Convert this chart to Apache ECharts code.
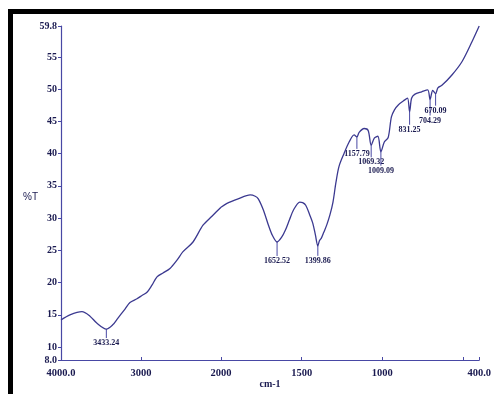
<!DOCTYPE html>
<html>
<head>
<meta charset="utf-8">
<script src="https://cdn.jsdelivr.net/npm/echarts@6/dist/echarts.min.js"></script>
<style>
html,body{margin:0;padding:0;background:#fff;}
#chart{width:494px;height:394px;}
</style>
</head>
<body>
<div id="chart"></div>
<script>
// Spectrum: wavenumber (cm-1) and %T
const wavenumber = [4000, 3888, 3738, 3638, 3550, 3433.24, 3350, 3300, 3200, 3138, 3050, 2988, 2925, 2863, 2800, 2725, 2638, 2550, 2475, 2350, 2225, 2113, 2000,
  1963, 1894, 1819, 1788, 1769, 1738, 1706, 1681, 1652.52, 1625, 1600, 1575, 1550, 1512, 1494, 1475, 1450, 1431, 1415, 1399.86, 1390, 1378, 1363, 1344, 1325, 1306, 1288, 1269, 1238, 1206, 1175, 1157.79, 1144, 1113, 1088, 1069.32, 1050, 1028, 1009.09, 988, 964, 944, 925, 900, 863, 844, 831.25, 819, 800, 756, 719, 704.29, 688, 670.09, 656, 631, 569, 506, 444, 400];
const transmittance = [14.2, 15.0, 15.5, 14.8, 13.7, 12.8, 13.5, 14.3, 15.9, 16.9, 17.5, 18.0, 18.5, 19.6, 20.9, 21.5, 22.2, 23.5, 24.8, 26.3, 28.9, 30.3, 31.7,
  32.3, 33.0, 33.6, 33.4, 33.0, 31.3, 28.9, 27.3, 26.3, 27.0, 28.2, 29.8, 31.3, 32.5, 32.4, 32.0, 30.5, 29.2, 27.4, 25.7, 26.5, 26.9, 27.8, 29.0, 30.5, 32.5, 35.5, 38.0, 40.0, 41.8, 42.9, 42.6, 43.3, 43.9, 43.6, 41.3, 42.4, 42.7, 40.3, 41.8, 42.5, 45.7, 46.8, 47.6, 48.3, 48.6, 46.5, 48.6, 49.2, 49.6, 49.9, 48.4, 49.8, 49.3, 50.2, 50.6, 52.2, 54.3, 57.4, 59.8];

// Peak annotations
const peakWn = [3433.24, 1652.52, 1399.86, 1157.79, 1069.32, 1009.09, 831.25, 704.29, 670.09];
const peakT = [12.8, 26.3, 25.7, 42.6, 41.3, 40.3, 46.5, 48.4, 49.3];
const peakLabels = ['3433.24', '1652.52', '1399.86', '1157.79', '1069.32', '1009.09', '831.25', '704.29', '670.09'];

// Axis ticks
const yTicks = [8, 10, 15, 20, 25, 30, 35, 40, 45, 50, 55, 59.8];
const xTicksHigh = [4000, 3000, 2000];
const xTicksLow = [1500, 1000, 500, 400];
const xLabelsLow = [1500, 1000, 400];

// styles (not data)
const markerLen = [9, 14, 10, 12, 12, 14, 13, 16, 12];
const lineColor = '#3b3990';
const axisColor = '#4848a4';
const textColor = '#1a1a50';

const pts = wavenumber.map((w, i) => [w, transmittance[i]]);
const partHigh = pts.filter(p => p[0] >= 2000);
const partLow = pts.filter(p => p[0] <= 2000);
const peaks = peakWn.map((w, i) => [w, peakT[i], markerLen[i], i]);
const peaksHigh = peaks.filter(p => p[0] >= 2000);
const peaksLow = peaks.filter(p => p[0] < 2000);

function renderPeak(params, api) {
  const p = api.coord([api.value(0), api.value(1)]);
  const len = api.value(2);
  const idx = api.value(3);
  return {
    type: 'group',
    children: [
      {type: 'line', shape: {x1: p[0], y1: p[1], x2: p[0], y2: p[1] + len}, style: {stroke: axisColor, lineWidth: 1}},
      {type: 'text', x: p[0], y: p[1] + len + 1, style: {text: peakLabels[idx], align: 'center', verticalAlign: 'top', font: 'bold 8px "Liberation Serif", serif', fill: textColor}}
    ]
  };
}

const labelFont = {fontFamily: '"Liberation Serif", serif', fontWeight: 'bold', color: textColor};

const chart = echarts.init(document.getElementById('chart'), null, {renderer: 'canvas'});
chart.setOption({
  backgroundColor: '#ffffff',
  animation: false,
  grid: [
    {left: 61, top: 26, width: 160, height: 334},
    {left: 221, top: 26, width: 259, height: 334}
  ],
  xAxis: [
    {
      gridIndex: 0, type: 'value', min: 2000, max: 4000, inverse: true,
      axisLine: {lineStyle: {color: axisColor, width: 1.2}},
      axisTick: {inside: true, length: 3, customValues: xTicksHigh, lineStyle: {color: axisColor}},
      axisLabel: Object.assign({fontSize: 10.5, margin: 8, customValues: xTicksHigh,
        formatter: v => v === 4000 ? '4000.0' : String(v)}, labelFont),
      splitLine: {show: false}
    },
    {
      gridIndex: 1, type: 'value', min: 400, max: 2000, inverse: true,
      axisLine: {lineStyle: {color: axisColor, width: 1.2}},
      axisTick: {inside: true, length: 3, customValues: xTicksLow, lineStyle: {color: axisColor}},
      axisLabel: Object.assign({fontSize: 10.5, margin: 8, customValues: xLabelsLow,
        formatter: v => v === 400 ? '400.0' : String(v)}, labelFont),
      splitLine: {show: false}
    }
  ],
  yAxis: [
    {
      gridIndex: 0, type: 'value', min: 8, max: 59.8,
      axisLine: {show: true, lineStyle: {color: axisColor, width: 1.2}},
      axisTick: {show: true, length: 3, customValues: yTicks, lineStyle: {color: axisColor}},
      axisLabel: Object.assign({fontSize: 10, margin: 4, customValues: yTicks,
        formatter: v => (v === 8 ? '8.0' : (v === 59.8 ? '59.8' : String(v)))}, labelFont),
      splitLine: {show: false}
    },
    {
      gridIndex: 1, type: 'value', min: 8, max: 59.8, show: false, splitLine: {show: false}
    }
  ],
  graphic: [
    {type: 'rect', shape: {x: 8, y: 9, width: 486, height: 5}, style: {fill: '#000'}},
    {type: 'rect', shape: {x: 8, y: 9, width: 5, height: 385}, style: {fill: '#000'}},
    {type: 'text', x: 23, y: 197, style: {text: '%T', font: '10px "Liberation Sans", sans-serif', fill: textColor, verticalAlign: 'middle'}},
    {type: 'text', x: 270, y: 384, style: {text: 'cm-1', font: 'bold 10px "Liberation Serif", serif', fill: textColor, align: 'center', verticalAlign: 'middle'}}
  ],
  series: [
    {type: 'line', xAxisIndex: 0, yAxisIndex: 0, data: partHigh, showSymbol: false, smooth: 0.3,
      lineStyle: {color: lineColor, width: 1.3}, silent: true},
    {type: 'line', xAxisIndex: 1, yAxisIndex: 1, data: partLow, showSymbol: false, smooth: 0.3,
      lineStyle: {color: lineColor, width: 1.3}, silent: true},
    {type: 'custom', xAxisIndex: 0, yAxisIndex: 0, data: peaksHigh, renderItem: renderPeak, clip: false, silent: true},
    {type: 'custom', xAxisIndex: 1, yAxisIndex: 1, data: peaksLow, renderItem: renderPeak, clip: false, silent: true}
  ]
});
</script>
</body>
</html>
